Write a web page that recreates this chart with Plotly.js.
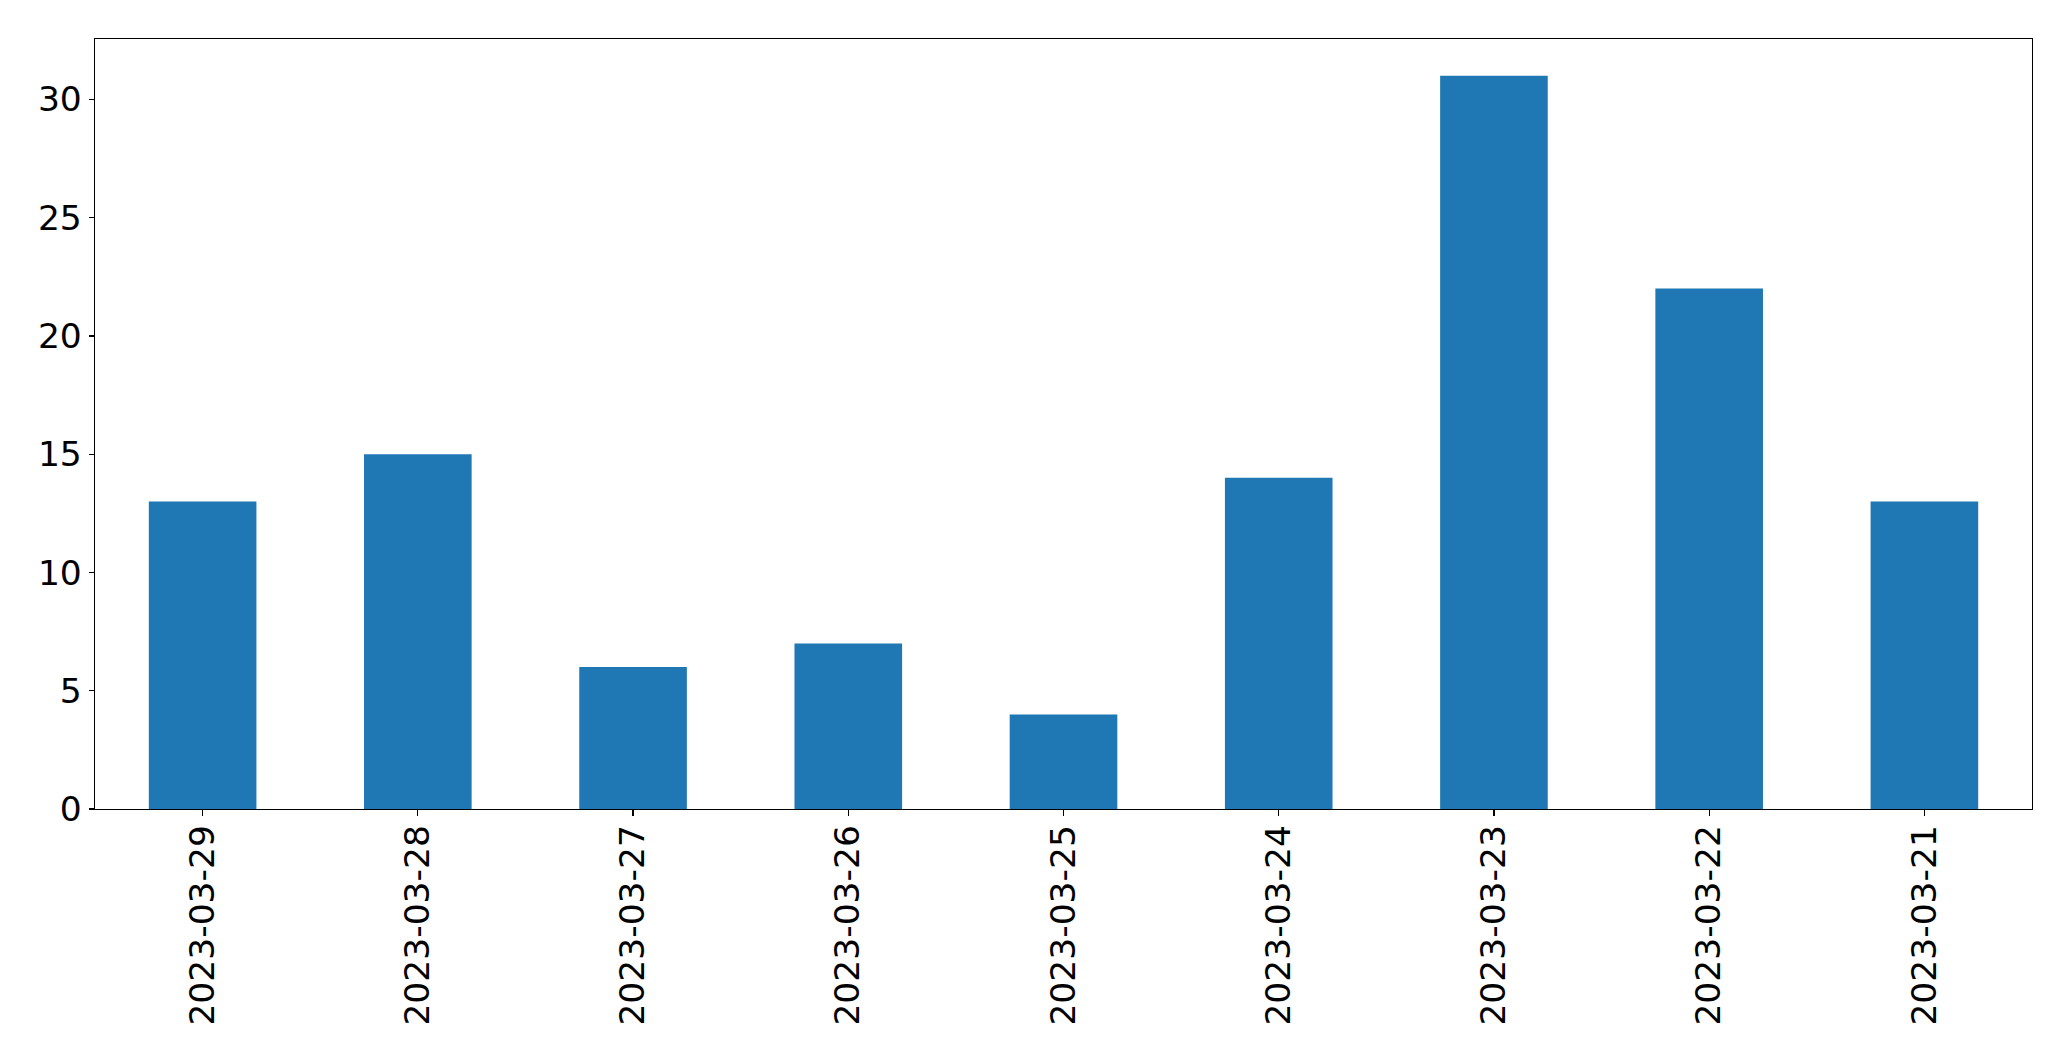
<!DOCTYPE html>
<html>
<head>
<meta charset="utf-8">
<script src="https://cdn.plot.ly/plotly-3.0.1.min.js"></script>
<style>html,body{margin:0;padding:0;background:#fff;}#chart{width:2071px;height:1061px;}</style>
</head>
<body>
<div id="chart"></div>
<script>
const categories = ["2023-03-29","2023-03-28","2023-03-27","2023-03-26","2023-03-25","2023-03-24","2023-03-23","2023-03-22","2023-03-21"];
const counts = [13, 15, 6, 7, 4, 14, 31, 22, 13];
const yTicks = [0, 5, 10, 15, 20, 25, 30];

const font = {family: "DejaVu Sans", size: 34.5, color: "#000"};
Plotly.newPlot("chart", [{
  type: "bar",
  x: categories,
  y: counts,
  marker: {color: "#1f77b4", line: {width: 0}},
  hoverinfo: "x+y"
}], {
  width: 2071, height: 1061,
  margin: {l: 94.5, r: 39.3, t: 39.3, b: 252, pad: 0},
  paper_bgcolor: "#fff", plot_bgcolor: "#fff",
  bargap: 0.5,
  showlegend: false,
  xaxis: {
    type: "category",
    range: [-0.5, 8.5],
    showline: true, linecolor: "#000", linewidth: 1.3, mirror: true,
    showgrid: false, zeroline: false,
    ticks: "outside", ticklen: 6, tickwidth: 1.3, tickcolor: "#000",
    ticklabelstandoff: -5,
    tickangle: -90, tickfont: font
  },
  yaxis: {
    range: [0, 32.55],
    tickvals: yTicks,
    showline: true, linecolor: "#000", linewidth: 1.3, mirror: true,
    showgrid: false, zeroline: false,
    ticks: "outside", ticklen: 5, tickwidth: 1.3, tickcolor: "#000",
    tickfont: font
  }
}, {staticPlot: true});
</script>
</body>
</html>
